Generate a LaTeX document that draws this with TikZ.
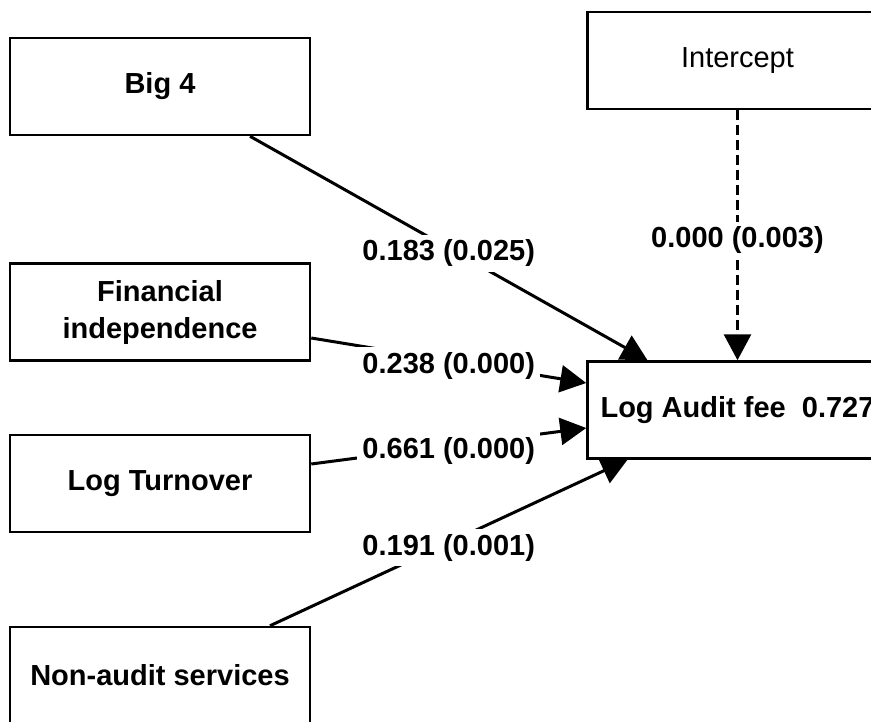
\documentclass[tikz,border=0pt]{standalone}
\usepackage{fontspec}
\setmainfont{Liberation Sans}
\usetikzlibrary{positioning,arrows.meta}

\begin{document}
\begin{tikzpicture}[x=1pt,y=-1pt,
    box/.style={draw, line width=2.5pt, minimum width=300pt, minimum height=97pt,
        align=center, font=\fontsize{29}{37}\selectfont\bfseries},
    path/.style={line width=3pt, -{Triangle[length=26pt,width=27pt]}},
    coef/.style={fill=white, inner sep=5pt, yshift=-5pt, font=\fontsize{29}{35}\selectfont\bfseries}]
    \useasboundingbox (0,0) rectangle (871,721);

    % Predictors on the left
    \node[box] (big4) at (160,86.5) {Big 4};
    \node[box] (fin) at (160,312) {Financial\\independence};
    \node[box] (turn) at (160,483.5) {Log Turnover};
    \node[box] (nas) at (160,675.5) {Non-audit services};

    % Intercept and outcome on the right
    \node[box, font=\fontsize{29}{37}\selectfont] (icpt) at (737.5,60.5) {Intercept};
    \node[box] (fee) at (737.5,410) {Log Audit fee~~0.727};

    % Paths with coefficients (p-values)
    \draw[path] ([xshift=90pt]big4.south) -- node[coef] {0.183 (0.025)} ([xshift=-90pt]fee.north);
    \draw[path, dash pattern=on 10pt off 5pt] (icpt.south) -- node[coef] {0.000 (0.003)} (fee.north);
    \draw[path] ([yshift=-26pt]fin.east) -- node[coef] {0.238 (0.000)} ([yshift=27pt]fee.west);
    \draw[path] ([yshift=19.5pt]turn.east) -- node[coef] {0.661 (0.000)} ([yshift=-18pt]fee.west);
    \draw[path] ([xshift=110pt]nas.north) -- node[coef] {0.191 (0.001)} ([xshift=-110pt]fee.south);
\end{tikzpicture}
\end{document}
